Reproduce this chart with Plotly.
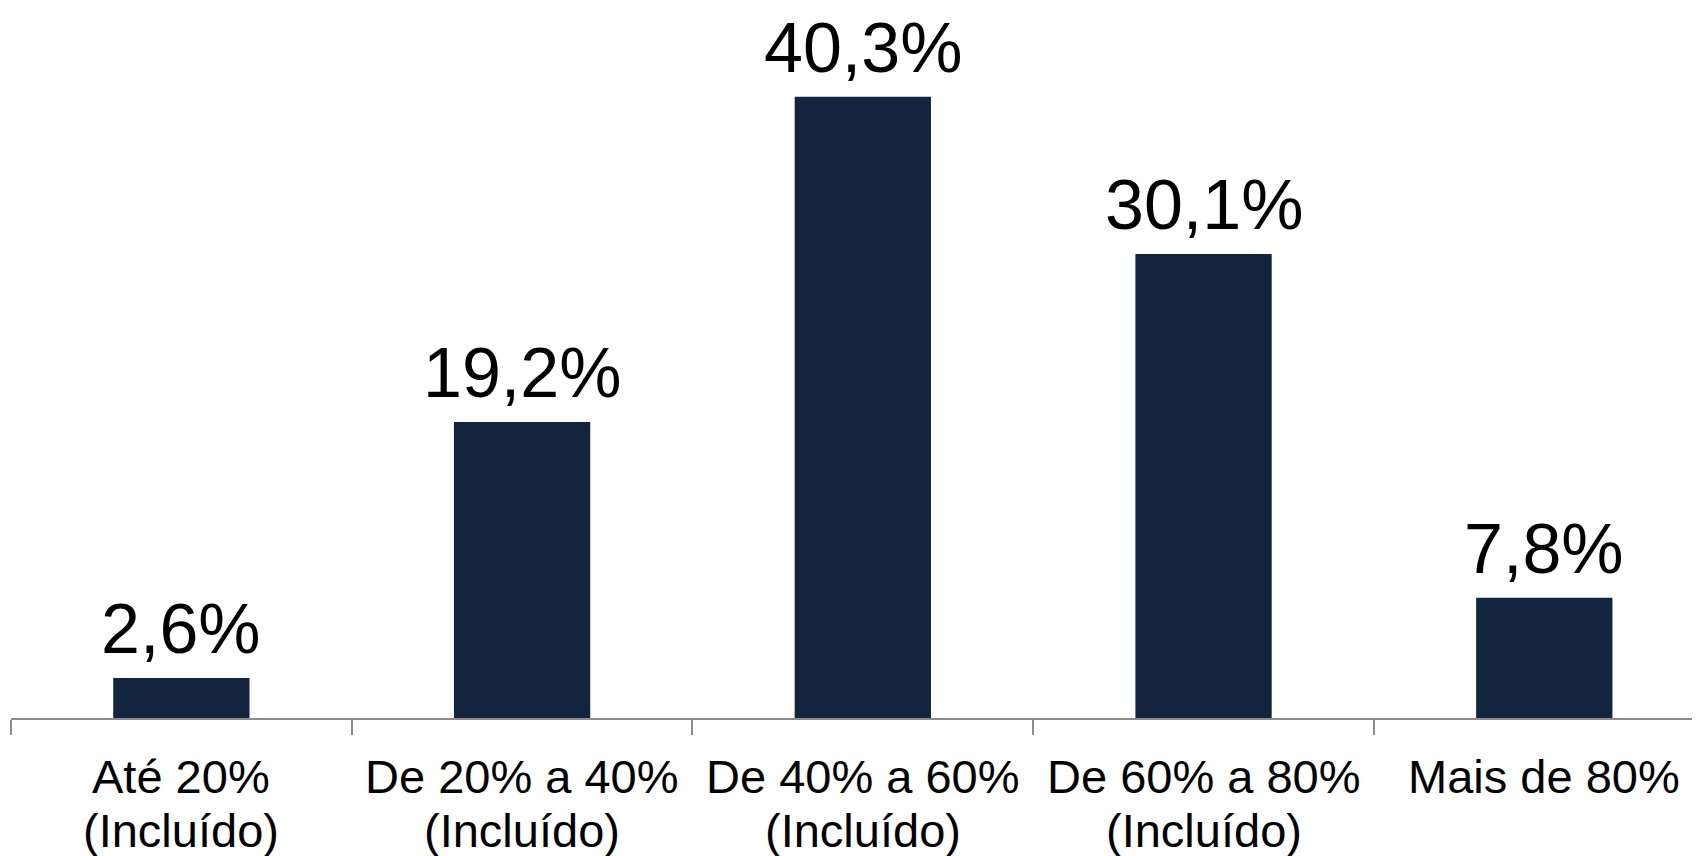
import plotly.graph_objects as go

categories = ["Até 20%<br>(Incluído)", "De 20% a 40%<br>(Incluído)", "De 40% a 60%<br>(Incluído)",
              "De 60% a 80%<br>(Incluído)", "Mais de 80%"]
values = [2.6, 19.2, 40.3, 30.1, 7.8]
labels = ["2,6%", "19,2%", "40,3%", "30,1%", "7,8%"]

FONT = "Liberation Sans, Arial, sans-serif"

fig = go.Figure(go.Bar(
    x=categories, y=values,
    marker=dict(color="#13243F", line=dict(width=0)),
    width=0.4, cliponaxis=False, hoverinfo="skip",
))

# value labels above bars
for c, v, t in zip(categories, values, labels):
    fig.add_annotation(x=c, y=v, text=t, showarrow=False, yanchor="bottom",
                       yshift=8, font=dict(size=70, color="#000000", family=FONT))

# category labels (one annotation per line for tighter line spacing)
line_shifts = [-30, -84]
for c in categories:
    for i, line in enumerate(c.split("<br>")):
        fig.add_annotation(x=c, xref="x", y=0, yref="paper", text=line, showarrow=False,
                           yanchor="top", yshift=line_shifts[i],
                           font=dict(size=47, color="#000000", family=FONT))

fig.update_layout(
    width=1692, height=848,
    margin=dict(l=3, r=0, t=8, b=138),
    paper_bgcolor="white", plot_bgcolor="white",
    showlegend=False,
    font=dict(family=FONT, color="#000000"),
)
fig.update_xaxes(
    range=[-0.5, 4.457], showline=True, linecolor="#8C8C8C", linewidth=2,
    ticks="outside", tickson="boundaries", ticklen=15, tickwidth=2, tickcolor="#8C8C8C",
    showticklabels=False, showgrid=False, zeroline=False, automargin=False,
)
fig.update_yaxes(range=[0, 45.53], visible=False, showgrid=False, zeroline=False, automargin=False)

fig.write_html("out.html")
